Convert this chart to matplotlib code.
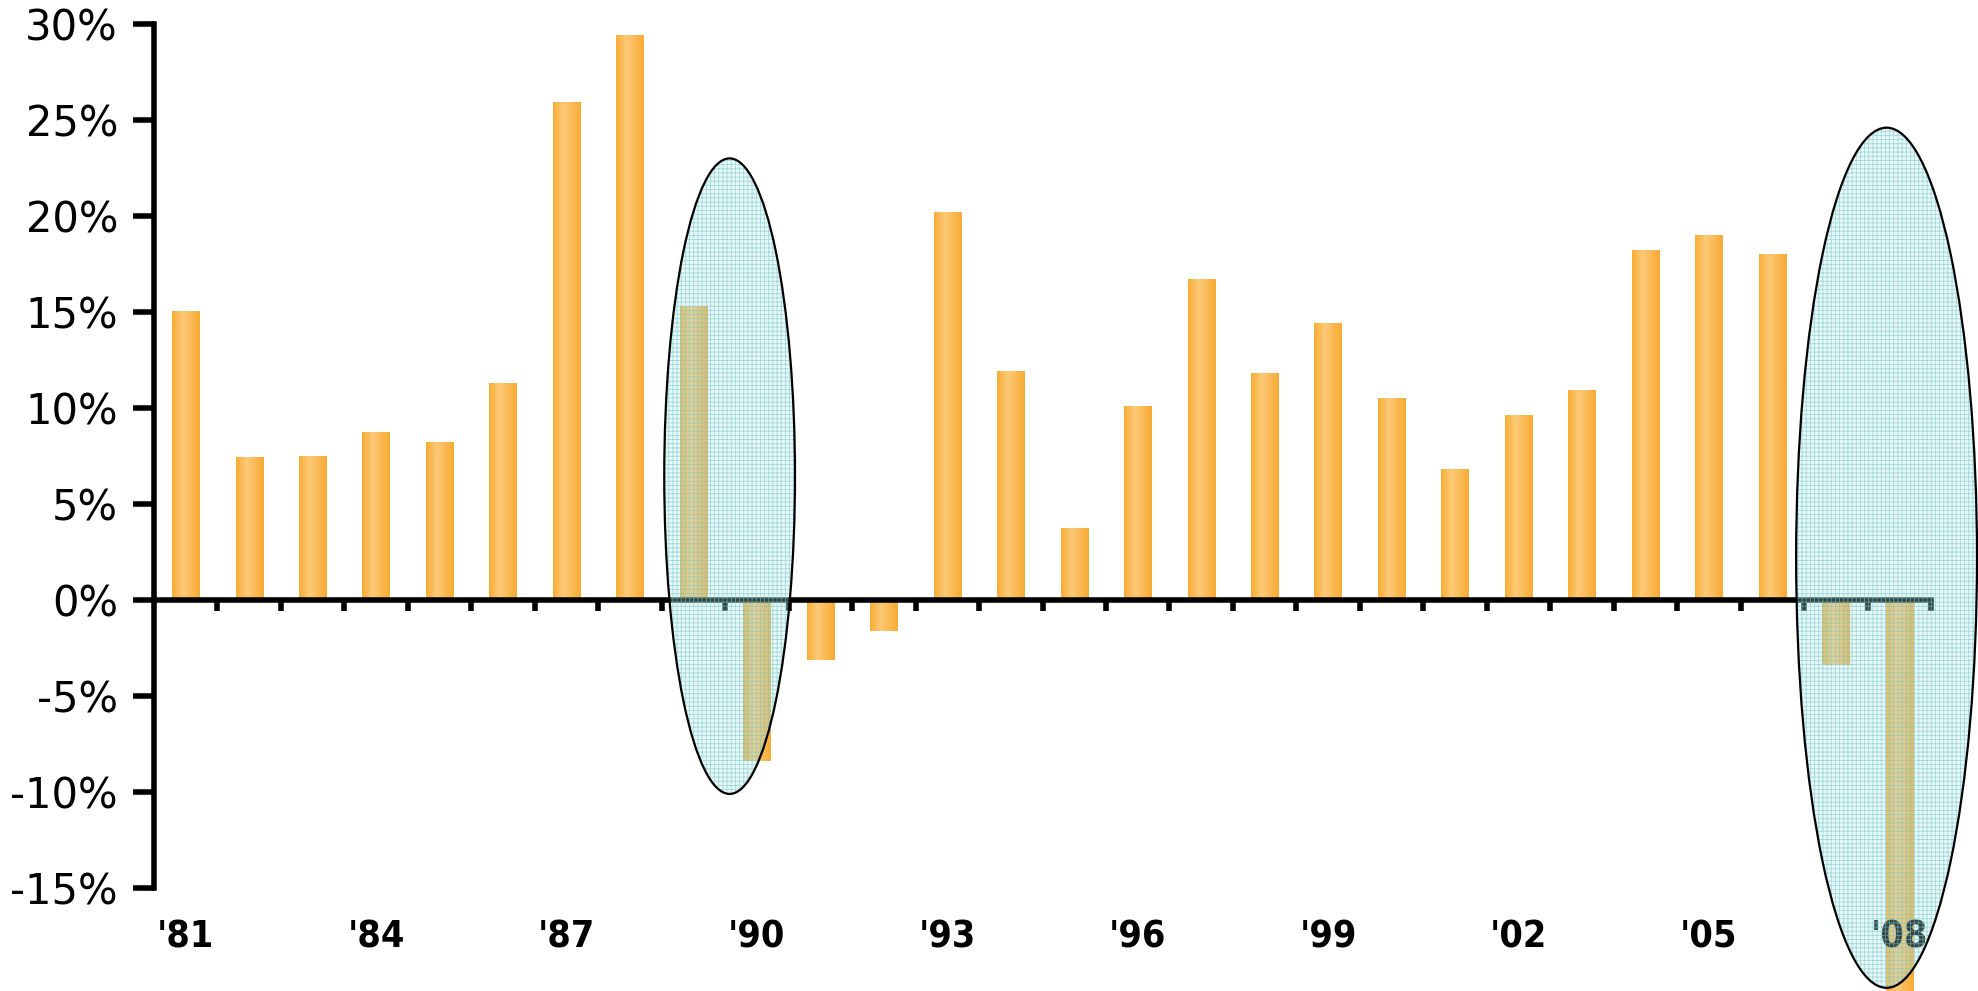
import numpy as np
import matplotlib
matplotlib.use("Agg")
import matplotlib.pyplot as plt
from matplotlib.patches import Ellipse
from matplotlib.colors import LinearSegmentedColormap

# ---- data -------------------------------------------------------------
years = ["'81", "'82", "'83", "'84", "'85", "'86", "'87", "'88", "'89", "'90",
         "'91", "'92", "'93", "'94", "'95", "'96", "'97", "'98", "'99", "'00",
         "'01", "'02", "'03", "'04", "'05", "'06", "'07", "'08"]
returns_pct = [15.0, 7.4, 7.5, 8.7, 8.2, 11.3, 25.9, 29.4, 15.3, -8.4,
               -3.1, -1.6, 20.2, 11.9, 3.7, 10.1, 16.7, 11.8, 14.4, 10.5,
               6.8, 9.6, 10.9, 18.2, 19.0, 18.0, -3.4, -25.0]
label_years = ["'81", "'84", "'87", "'90", "'93", "'96", "'99", "'02", "'05", "'08"]
y_ticks = [-15, -10, -5, 0, 5, 10, 15, 20, 25, 30]
y_tick_labels = [f"{v}%" for v in y_ticks]

# highlighted periods: (center index, center value, width in years, height in %)
highlights = [(8.57, 6.45, 2.06, 33.1), (26.8, 2.2, 2.85, 44.8)]

plt.rcParams['font.family'] = ['DejaVu Sans']
plt.rcParams['hatch.linewidth'] = 0.6

fig = plt.figure(figsize=(19.78, 9.91), dpi=100)
ax = fig.add_axes([154 / 1978, 1 - 888 / 991, (1931 - 154) / 1978, (888 - 24) / 991])

x = np.arange(len(years))
bars = ax.bar(x, returns_pct, width=0.43, color='#F9B443', zorder=2, clip_on=False)

# horizontal gradient fill on each bar
cmap = LinearSegmentedColormap.from_list(
    'bar', [(0.0, '#F8AD36'), (0.38, '#FDC978'), (1.0, '#F8AB33')])
grad = np.linspace(0, 1, 64).reshape(1, -1)
for b in bars:
    x0, y0 = b.get_x(), b.get_y()
    w, h = b.get_width(), b.get_height()
    im = ax.imshow(grad, cmap=cmap, extent=[x0, x0 + w, min(y0, y0 + h), max(y0, y0 + h)],
                   aspect='auto', interpolation='bilinear', zorder=2.1)
    im.set_clip_on(False)

# highlight ellipses
for cx, cy, w, h in highlights:
    e = Ellipse((cx, cy), w, h, facecolor=(0.70, 0.90, 0.90, 0.30),
                edgecolor=(0.45, 0.78, 0.78, 0.60), hatch='++++',
                linewidth=0, zorder=5, clip_on=False)
    ax.add_patch(e)
    e2 = Ellipse((cx, cy), w, h, fill=False, edgecolor='black',
                 linewidth=1.6, zorder=6, clip_on=False)
    ax.add_patch(e2)

ax.set_xlim(-0.5, len(years) - 0.5)
ax.set_ylim(-15, 30)

# spines
for s in ['top', 'right']:
    ax.spines[s].set_visible(False)
ax.spines['left'].set_linewidth(4)
ax.spines['bottom'].set_linewidth(4)
ax.spines['bottom'].set_position(('data', 0))

# y axis
ax.set_yticks(y_ticks)
ax.set_yticklabels(y_tick_labels)
ax.tick_params(axis='y', length=15, width=4, pad=11, labelsize=30, direction='out')

# x axis: small tick marks between bars on the zero line
ax.set_xticks([])
ax.set_xticks(x + 0.5, minor=True)
ax.tick_params(axis='x', which='minor', length=8, width=4, direction='out')
ax.tick_params(axis='x', which='major', length=0, labelbottom=False)

# year labels at the bottom of the plot area (drawn above bars, below ellipses)
sec = ax.secondary_xaxis(0)
sec.set_zorder(3)
sec.set_xticks([years.index(l) for l in label_years], label_years)
sec.spines['bottom'].set_visible(False)
sec.tick_params(axis='x', length=0, pad=23, labelsize=27)
for lbl in sec.get_xticklabels():
    lbl.set_fontweight('bold')
    lbl.set_fontstretch('condensed')

fig.savefig('out.png', dpi=100, facecolor='white')
